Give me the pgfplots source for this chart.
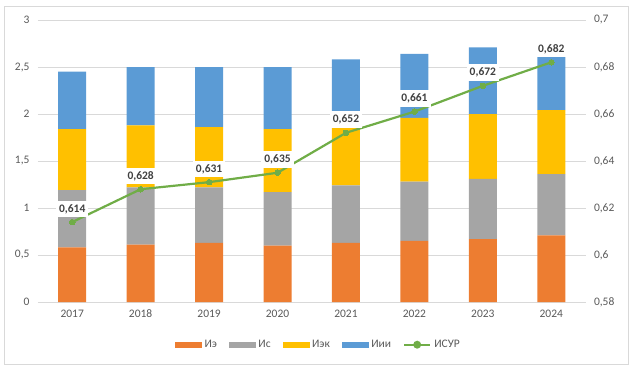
\documentclass[border=0pt]{standalone}
\usepackage{pgfplots}
\pgfplotsset{compat=1.18}
\usepackage{pgfplotstable}
\usepackage{fontspec}
\setmainfont{Carlito}
\definecolor{cE}{HTML}{ED7D31}
\definecolor{cS}{HTML}{A5A5A5}
\definecolor{cK}{HTML}{FFC000}
\definecolor{cI}{HTML}{5B9BD5}
\definecolor{cG}{HTML}{70AD47}
\definecolor{gridc}{HTML}{D9D9D9}
\definecolor{tc}{HTML}{595959}
\definecolor{labc}{HTML}{404040}
\pgfplotstableread{
x ie is iek iii isur
0 0.58 0.61 0.65 0.61 0.614
1 0.61 0.61 0.66 0.62 0.628
2 0.63 0.59 0.64 0.64 0.631
3 0.60 0.57 0.67 0.66 0.635
4 0.63 0.61 0.64 0.70 0.652
5 0.65 0.63 0.68 0.68 0.661
6 0.67 0.64 0.69 0.71 0.672
7 0.71 0.65 0.68 0.58 0.682
}\datatab
\pgfplotsset{base/.style={
  scale only axis, width=547.5pt, height=282pt,
  at={(0pt,0pt)}, anchor=south west,
  xmin=-0.5, xmax=7.5,
  axis line style={draw=none}, tick style={draw=none},
  ticklabel style={font=\fontsize{11.5}{13}\selectfont, text=tc},
  /pgf/number format/assume math mode=true,
  /pgf/number format/use comma,
}}
\begin{document}
\begin{tikzpicture}
\useasboundingbox (-38pt,-66pt) rectangle (597pt,302pt);
\begin{axis}[base,
  ymin=0, ymax=3, ytick={0,0.5,1,1.5,2,2.5,3},
  ymajorgrids, grid style={gridc, line width=0.8pt},
  xtick={0,...,7}, xticklabels={2017,2018,2019,2020,2021,2022,2023,2024},
  xticklabel style={yshift=-4pt},
  yticklabel style={xshift=-5pt},
  ybar stacked, bar width=28pt,
]
\addplot[fill=cE, draw=none] table[x=x, y=ie] {\datatab};
\addplot[fill=cS, draw=none] table[x=x, y=is] {\datatab};
\addplot[fill=cK, draw=none] table[x=x, y=iek] {\datatab};
\addplot[fill=cI, draw=none] table[x=x, y=iii] {\datatab};
\end{axis}
\begin{axis}[base,
  ymin=0.58, ymax=0.7, ytick={0.58,0.6,0.62,0.64,0.66,0.68,0.7},
  yticklabel pos=right, xtick=\empty,
  yticklabel style={xshift=5pt, /pgf/number format/fixed, /pgf/number format/precision=2},
  legend columns=5,
  legend style={at={(0.5123,-0.1514)}, anchor=center, draw=none, fill=none,
    font=\fontsize{11.5}{13}\selectfont, text=tc,
    /tikz/every odd column/.append style={column sep=1pt},
    /tikz/every even column/.append style={column sep=10pt}},
]
\addlegendimage{legend image code/.code={\fill[cE] (0pt,-2.5pt) rectangle (26pt,2.5pt);}}
\addlegendentry{Иэ}
\addlegendimage{legend image code/.code={\fill[cS] (0pt,-2.5pt) rectangle (26pt,2.5pt);}}
\addlegendentry{Ис}
\addlegendimage{legend image code/.code={\fill[cK] (0pt,-2.5pt) rectangle (26pt,2.5pt);}}
\addlegendentry{Иэк}
\addlegendimage{legend image code/.code={\fill[cI] (0pt,-2.5pt) rectangle (26pt,2.5pt);}}
\addlegendentry{Иии}
\addplot[cG, line width=2.2pt, mark=*, mark size=2.8pt, mark options={fill=cG, draw=cG, line width=0pt},
  legend image code/.code={\draw[cG, line width=2.2pt] (0pt,0pt) -- (26pt,0pt); \fill[cG] (13pt,0pt) circle (2.8pt);},
  nodes near coords,
  nodes near coords style={font=\bfseries\fontsize{11.5}{13}\selectfont, text=labc, fill=white,
    inner xsep=3pt, inner ysep=3.5pt, anchor=south, yshift=5pt,
    /pgf/number format/fixed, /pgf/number format/precision=3, /pgf/number format/fixed zerofill,
    /pgf/number format/use comma},
] table[x=x, y=isur] {\datatab};
\addlegendentry{ИСУР}
\end{axis}
\draw[gridc, line width=1pt] (-33.5pt,-62pt) rectangle (590.5pt,296pt);
\end{tikzpicture}
\end{document}
